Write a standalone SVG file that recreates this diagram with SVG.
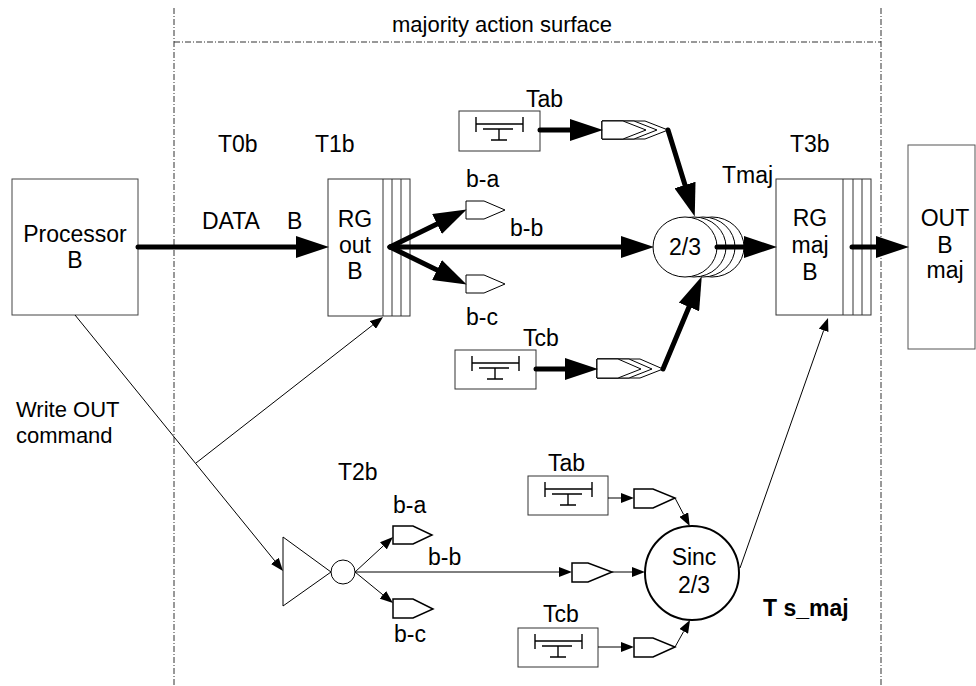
<svg xmlns="http://www.w3.org/2000/svg" width="976" height="686" viewBox="0 0 976 686">
<style>
text{font-family:"Liberation Sans",Arial,sans-serif;font-size:23px;fill:#000}
.c{text-anchor:middle}
.box{fill:#fff;stroke:#333;stroke-width:1}
.frame{fill:none;stroke:#333;stroke-width:1;stroke-dasharray:6 2 1 2}
.thick{fill:none;stroke:#000;stroke-width:5;stroke-linecap:round}
.thin{fill:none;stroke:#000;stroke-width:1}
.pent{fill:#fff;stroke:#000;stroke-width:1.5}
.sym{fill:none;stroke:#000;stroke-width:1.4}
</style>
<defs>
<marker id="ah" markerUnits="userSpaceOnUse" markerWidth="33" markerHeight="22" refX="0" refY="11" orient="auto">
<path d="M0,0 L33,11 L0,22 Z" fill="#000"/>
</marker>
<marker id="at" markerUnits="userSpaceOnUse" markerWidth="13" markerHeight="10" refX="0" refY="5" orient="auto">
<path d="M0,0 L13,5 L0,10 Z" fill="#000"/>
</marker>
<g id="tsym" class="sym"><path d="M17,6 V21 M64,6 V21 M17,13 H64 M24,18 H54 M40,18 V29 M32,29 H48"/></g>
</defs>

<g id="frame">
<line class="frame" x1="174" y1="8" x2="174" y2="686"/>
<line class="frame" x1="881" y1="8" x2="881" y2="686"/>
<line class="frame" x1="174" y1="42" x2="881" y2="42"/>
<text class="c" x="502" y="32" style="font-size:22px">majority action surface</text>
</g>

<g id="labels">
<text x="218" y="152">T0b</text>
<text x="315" y="152">T1b</text>
<text x="202" y="229">DATA</text>
<text x="287" y="229">B</text>
<text x="466" y="187">b-a</text>
<text x="510" y="236">b-b</text>
<text x="466" y="325">b-c</text>
<text x="722" y="183">Tmaj</text>
<text x="790" y="152">T3b</text>
<text x="16" y="417" style="font-size:22px">Write OUT</text>
<text x="16" y="443" style="font-size:22px">command</text>
<text x="338" y="480">T2b</text>
<text x="393" y="513">b-a</text>
<text x="428" y="565">b-b</text>
<text x="394" y="642">b-c</text>
<text x="763" y="616" style="font-weight:bold">T s_maj</text>
</g>

<g id="processor">
<rect class="box" x="12" y="179" width="126" height="136" style="stroke:#444"/>
<text class="c" x="75" y="242">Processor</text>
<text class="c" x="75" y="268">B</text>
</g>

<g id="rg-out">
<rect class="box" x="328" y="179" width="82" height="137"/>
<path class="thin" d="M383,179 V316 M392,179 V316 M401,179 V316" style="stroke:#333"/>
<text class="c" x="355" y="227">RG</text>
<text class="c" x="355" y="253">out</text>
<text class="c" x="355" y="279">B</text>
</g>

<g id="rg-maj">
<rect class="box" x="776" y="179" width="95" height="136"/>
<path class="thin" d="M843,179 V315 M853,179 V315 M862,179 V315" style="stroke:#333"/>
<text class="c" x="810" y="226">RG</text>
<text class="c" x="810" y="253">maj</text>
<text class="c" x="810" y="280">B</text>
</g>

<g id="out-b-maj">
<rect class="box" x="908" y="145" width="67" height="204" style="stroke:#555"/>
<text class="c" x="945" y="226">OUT</text>
<text class="c" x="945" y="253">B</text>
<text class="c" x="945" y="278">maj</text>
</g>

<g id="tab-top">
<rect class="box" x="459" y="111" width="81" height="40"/>
<use href="#tsym" x="459" y="111"/>
<text x="526" y="107">Tab</text>
</g>

<g id="tcb-top">
<rect class="box" x="455" y="350" width="81" height="39"/>
<use href="#tsym" x="455" y="350"/>
<text x="523" y="346">Tcb</text>
</g>

<g id="chev-tab">
<polygon class="pent" style="stroke-width:1" points="602,121 645,121 668,130 645,139 602,139"/>
<polygon class="pent" style="stroke-width:1" points="602,121 634,121 657,130 634,139 602,139"/>
<polygon class="pent" style="stroke-width:1" points="602,121 623,121 646,130 623,139 602,139"/>
</g>

<g id="chev-tcb">
<polygon class="pent" style="stroke-width:1" points="597,359 640,359 663,369 640,378 597,378"/>
<polygon class="pent" style="stroke-width:1" points="597,359 629,359 652,369 629,378 597,378"/>
<polygon class="pent" style="stroke-width:1" points="597,359 618,359 641,369 618,378 597,378"/>
</g>

<g id="pent-ba-top"><polygon class="pent" style="stroke-width:1" points="466,201 484,201 505,210 484,219 466,219"/></g>
<g id="pent-bc-top"><polygon class="pent" style="stroke-width:1" points="466,275 484,275 505,284 484,293 466,293"/></g>

<g id="maj23">
<ellipse cx="712" cy="247" rx="32" ry="30" fill="#fff" stroke="#000"/>
<ellipse cx="703" cy="247" rx="32" ry="30" fill="#fff" stroke="#000"/>
<ellipse cx="694" cy="247" rx="32" ry="30" fill="#fff" stroke="#000"/>
<ellipse cx="685" cy="247" rx="32" ry="30" fill="#fff" stroke="#000"/>
<text class="c" x="685" y="255">2/3</text>
</g>

<g id="buffer">
<polygon points="283,537 283,606 331,572" fill="#fff" stroke="#000" stroke-width="1"/>
<circle cx="343" cy="572" r="12" fill="#fff" stroke="#000"/>
</g>

<g id="pent-ba-bot"><polygon class="pent" points="393,526 413,526 432,535 413,544 393,544"/></g>
<g id="pent-bc-bot"><polygon class="pent" points="393,599 413,599 433,609 413,618 393,618"/></g>
<g id="pent-bb-bot"><polygon class="pent" points="572,563 588,563 612,572 588,582 572,582"/></g>

<g id="tab-bot">
<rect class="box" x="528" y="476" width="80" height="39"/>
<use href="#tsym" x="528" y="476"/>
<text x="548" y="471">Tab</text>
</g>
<g id="pent-tab-bot"><polygon class="pent" points="634,489 653,489 675,498 653,508 634,508"/></g>

<g id="tcb-bot">
<rect class="box" x="518" y="628" width="80" height="39"/>
<use href="#tsym" x="518" y="628"/>
<text x="543" y="622">Tcb</text>
</g>
<g id="pent-tcb-bot"><polygon class="pent" points="634,638 653,638 675,647 653,657 634,657"/></g>

<g id="sinc">
<circle cx="692" cy="573" r="47" fill="#fff" stroke="#000" stroke-width="2"/>
<text class="c" x="694" y="565">Sinc</text>
<text class="c" x="694" y="593">2/3</text>
</g>

<g id="connectors">
<line class="thick" x1="138" y1="247" x2="296" y2="247" marker-end="url(#ah)"/>
<line class="thick" x1="390" y1="247" x2="437" y2="224" marker-end="url(#ah)"/>
<line class="thick" x1="390" y1="247" x2="621" y2="247" marker-end="url(#ah)"/>
<line class="thick" x1="390" y1="247" x2="437" y2="270" marker-end="url(#ah)"/>
<line class="thick" x1="540" y1="130" x2="570" y2="130" marker-end="url(#ah)"/>
<line class="thick" x1="668" y1="130" x2="685" y2="185" marker-end="url(#ah)"/>
<line class="thick" x1="536" y1="369" x2="565" y2="369" marker-end="url(#ah)"/>
<line class="thick" x1="663" y1="369" x2="689" y2="307" marker-end="url(#ah)"/>
<line class="thick" x1="717" y1="247" x2="744" y2="247" marker-end="url(#ah)"/>
<line class="thick" x1="852" y1="247" x2="876" y2="247" marker-end="url(#ah)"/>

<line class="thin" x1="75" y1="315" x2="274.8" y2="560.9" marker-end="url(#at)"/>
<line class="thin" x1="196" y1="463" x2="372.8" y2="325" marker-end="url(#at)"/>
<line class="thin" x1="355" y1="572" x2="383.4" y2="545.8" marker-end="url(#at)"/>
<line class="thin" x1="355" y1="572" x2="382.9" y2="594.8" marker-end="url(#at)"/>
<line class="thin" x1="355" y1="572" x2="559" y2="572" marker-end="url(#at)"/>
<line class="thin" x1="612" y1="572" x2="632" y2="572" marker-end="url(#at)"/>
<line class="thin" x1="608" y1="498" x2="621" y2="498" marker-end="url(#at)"/>
<line class="thin" x1="675" y1="498" x2="683.7" y2="514.6" marker-end="url(#at)"/>
<line class="thin" x1="598" y1="647" x2="621" y2="647" marker-end="url(#at)"/>
<line class="thin" x1="675" y1="647" x2="683.7" y2="631.4" marker-end="url(#at)"/>
<line class="thin" x1="740" y1="568" x2="823.7" y2="330.3" marker-end="url(#at)"/>
</g>
</svg>
